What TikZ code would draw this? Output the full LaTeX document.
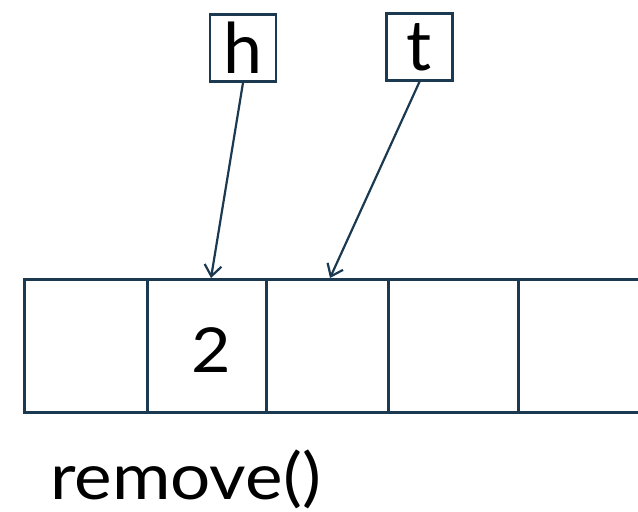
\documentclass[tikz,border=0pt]{standalone}
\usepackage{fontspec}
\setmainfont{Lato}
\usetikzlibrary{arrows.meta}
\definecolor{edge}{HTML}{1B3A52}
\begin{document}
\begin{tikzpicture}[x=1pt,y=-1pt,
  cell/.style={draw=edge,line width=2.5pt,minimum height=133pt,inner sep=0pt,anchor=north west},
  ptr/.style={draw=edge,line width=2.5pt,minimum width=66pt,minimum height=67pt,inner sep=0pt,font=\fontsize{70}{70}\selectfont},
  link/.style={draw=edge,line width=2.2pt,-{Straight Barb[length=11pt,width=17pt,line width=2.2pt]}}]
\useasboundingbox (0,0) rectangle (638,512);
% array cells
\node[cell,minimum width=123pt] (c1) at (23,278) {};
\node[cell,minimum width=119pt] (c2) at (146,278) {};
\node[cell,minimum width=122pt] (c3) at (265,278) {};
\node[cell,minimum width=130pt] (c4) at (387,278) {};
\node[cell,minimum width=150pt] (c5) at (517,278) {};
\node[font=\fontsize{62}{62}\selectfont] (v2) at (211,350) {\scalebox{1.1}[1]{2}};
% pointers
\node[ptr] (h) at (243,48) {h};
\node[ptr] (t) at (419.5,47) {t};
\coordinate (hp) at (211,278);
\coordinate (tp) at (330,278);
\draw[link] (h.south) -- (hp);
\draw[link] (t.south) -- (tp);
% caption
\node[font=\fontsize{64}{64}\selectfont,anchor=base west,inner sep=0pt] (op) at (50,499) {\scalebox{1.11}[1]{remove()}};
\end{tikzpicture}
\end{document}
